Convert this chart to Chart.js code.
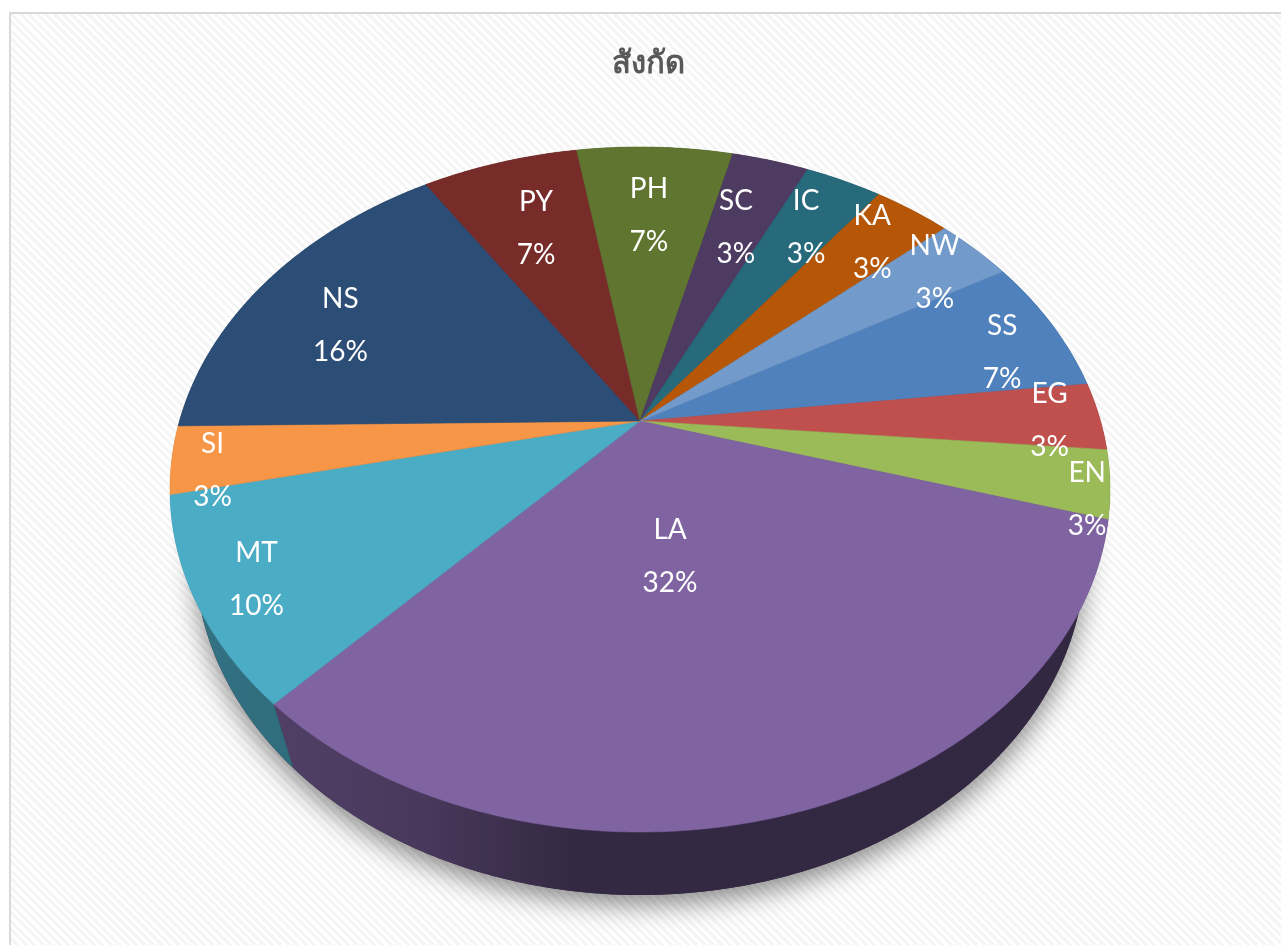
<!DOCTYPE html>
<html>
<head>
<meta charset="utf-8">
<title>สังกัด</title>
<script src="https://cdn.jsdelivr.net/npm/chart.js@4/dist/chart.umd.min.js"></script>
<style>
  html, body { margin: 0; padding: 0; background: #fff; overflow: hidden; width: 1281px; height: 945px; }
  #frame {
    position: absolute; left: 9px; top: 12px; width: 1290px; height: 960px; box-sizing: border-box;
    border: 2px solid #d9d9d9;
    background: repeating-linear-gradient(45deg, #ffffff 0, #ffffff 3px, #f5f5f5 3px, #f5f5f5 6px);
  }
  canvas { position: absolute; left: 0; top: 0; }
</style>
</head>
<body>
<div id="frame"></div>
<canvas id="chart" width="1296" height="945"></canvas>
<script>
// Chart data (percent of total, slice widths give the decimals)
const chartTitle = 'สังกัด';
const categories = ['SS', 'EG', 'EN', 'LA', 'MT', 'SI', 'NS', 'PY', 'PH', 'SC', 'IC', 'KA', 'NW'];
const percents = [6.5, 3.2, 3.2, 32.3, 9.7, 3.2, 16.1, 6.5, 6.5, 3.2, 3.2, 3.2, 3.2];
const sliceColors = ['#4f81bd', '#c0504d', '#9bbb59', '#8064a2', '#4bacc6', '#f79646', '#2c4d75',
  '#772c2a', '#5f7530', '#4d3b62', '#276a7c', '#b65708', '#729aca'];

// Label nudges from each slice's anchor point, same order as categories
const labelNudges = [[69, 1], [88, 3], [122, 35], [-69, -121], [-83, 35], [-102, 23], [-33, 6],
  [-1, -3], [-2, -4], [0, -2], [17, -18], [34, -25], [53, -24]];
const LABEL_LINE_GAP = 26.5;
const LABEL_RADIUS = 0.7;

// Perspective of the top face and the base of the pie
const topFace = { x: 640, y: 421, a: 460.5, b: 328.8, k: 0.2 };
const baseFace = { x: 640, y: 487, a: 436, b: 326.4, k: 0.2 };

// Map a slice angle (Chart.js radians) and radius fraction onto a face
function project(face, angle, r) {
  const u = r * Math.cos(angle);
  const v = r * Math.sin(angle);
  const d = 1 - face.k * v;
  return { x: face.x + face.a * u / d, y: face.y + face.b * v / d };
}

function traceArc(ctx, face, from, to, first) {
  const steps = Math.max(2, Math.ceil(Math.abs(to - from) / 0.01));
  for (let i = 0; i <= steps; i++) {
    const p = project(face, from + (to - from) * i / steps, 1);
    if (i === 0 && first) ctx.moveTo(p.x, p.y); else ctx.lineTo(p.x, p.y);
  }
}

function shade(hex, f) {
  const n = parseInt(hex.slice(1), 16);
  return `rgb(${Math.round((n >> 16) * f)},${Math.round(((n >> 8) & 255) * f)},${Math.round((n & 255) * f)})`;
}

const projectedPie = {
  id: 'projectedPie',
  // The slices come from the library's arc elements, drawn through the perspective above
  beforeDatasetDraw(chart) {
    const ctx = chart.ctx;
    const arcs = chart.getDatasetMeta(0).data;
    const full = Math.PI * 2;
    ctx.save();

    // Soft shadow under the whole pie
    ctx.save();
    ctx.shadowColor = 'rgba(0,0,0,0.45)';
    ctx.shadowBlur = 26;
    ctx.shadowOffsetY = 10;
    ctx.fillStyle = '#35263f';
    ctx.beginPath();
    traceArc(ctx, baseFace, 0, full, true);
    ctx.closePath();
    ctx.fill();
    ctx.restore();

    // Side wall
    arcs.forEach((arc, i) => {
      const grad = ctx.createLinearGradient(200, 0, 1090, 0);
      grad.addColorStop(0, shade(sliceColors[i], 0.66));
      grad.addColorStop(0.12, shade(sliceColors[i], 0.62));
      grad.addColorStop(0.25, shade(sliceColors[i], 0.56));
      grad.addColorStop(0.42, shade(sliceColors[i], 0.41));
      grad.addColorStop(1, shade(sliceColors[i], 0.4));
      ctx.fillStyle = grad;
      ctx.beginPath();
      traceArc(ctx, topFace, arc.startAngle, arc.endAngle, true);
      traceArc(ctx, baseFace, arc.endAngle, arc.startAngle, false);
      ctx.closePath();
      ctx.fill();
    });

    // Top face
    arcs.forEach((arc, i) => {
      ctx.fillStyle = sliceColors[i];
      ctx.strokeStyle = sliceColors[i];
      ctx.lineWidth = 0.6;
      ctx.beginPath();
      ctx.moveTo(topFace.x, topFace.y);
      traceArc(ctx, topFace, arc.startAngle, arc.endAngle, false);
      ctx.closePath();
      ctx.fill();
      ctx.stroke();
    });
    ctx.restore();
    return false;
  },
  afterDatasetsDraw(chart) {
    const ctx = chart.ctx;
    ctx.save();
    ctx.fillStyle = '#ffffff';
    ctx.font = '28px Lato, "Open Sans", sans-serif';
    ctx.textAlign = 'center';
    ctx.textBaseline = 'middle';
    chart.getDatasetMeta(0).data.forEach((arc, i) => {
      const mid = (arc.startAngle + arc.endAngle) / 2;
      const p = project(topFace, mid, LABEL_RADIUS);
      const x = p.x + labelNudges[i][0];
      const y = p.y + labelNudges[i][1];
      ctx.fillText(categories[i], x, y - LABEL_LINE_GAP);
      ctx.fillText(Math.round(percents[i]) + '%', x, y + LABEL_LINE_GAP);
    });
    ctx.restore();
  }
};

new Chart(document.getElementById('chart'), {
  type: 'pie',
  data: {
    labels: categories,
    datasets: [{ data: percents, backgroundColor: sliceColors, borderWidth: 0 }]
  },
  options: {
    responsive: false,
    animation: false,
    rotation: 60,
    plugins: {
      legend: { display: false },
      tooltip: { enabled: false },
      title: {
        display: true,
        text: chartTitle,
        color: '#595959',
        font: { family: '"Noto Sans", "DejaVu Sans", sans-serif', size: 31, weight: 'bold' },
        padding: { top: 46, bottom: 0 }
      }
    }
  },
  plugins: [projectedPie]
});
</script>
</body>
</html>
